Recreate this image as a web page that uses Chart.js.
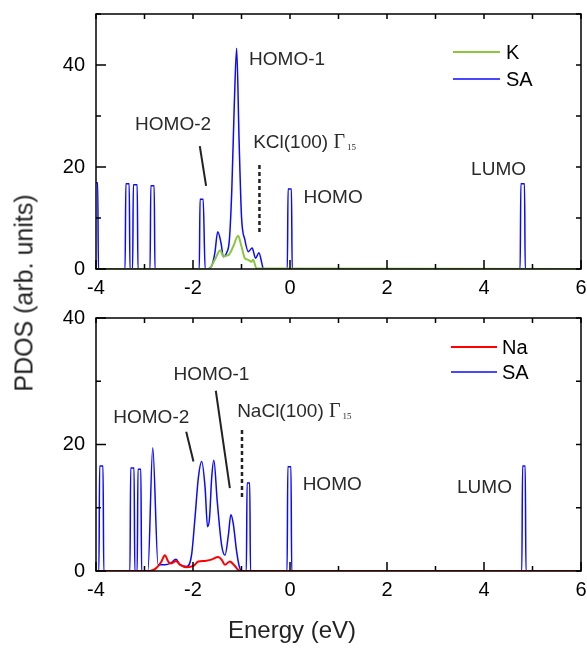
<!DOCTYPE html>
<html>
<head>
<meta charset="utf-8">
<script src="https://cdn.jsdelivr.net/npm/chart.js@4.4.1/dist/chart.umd.min.js"></script>
<style>
html, body { margin: 0; padding: 0; background: #fff; }
#wrap { position: relative; width: 587px; height: 649px; overflow: hidden; font-family: "Liberation Sans", Arial, sans-serif; }
.panel { position: absolute; left: 0; width: 587px; }
#topBox { top: 0; height: 305px; }
#botBox { top: 305px; height: 344px; }
#yTitle { position: absolute; left: 24px; top: 293px; transform: translate(-50%, -50%) rotate(-90deg); font-size: 25px; color: #222; white-space: nowrap; }
#xTitle { position: absolute; left: 292px; top: 630px; transform: translate(-50%, -50%); font-size: 24px; color: #222; white-space: nowrap; }
</style>
</head>
<body>
<div id="wrap">
  <div class="panel" id="topBox"><canvas id="topChart"></canvas></div>
  <div class="panel" id="botBox"><canvas id="botChart"></canvas></div>
  <div id="yTitle">PDOS (arb. units)</div>
  <div id="xTitle">Energy (eV)</div>
</div>
<script>
// tick labels
const energyTicks = [-4, -2, 0, 2, 4, 6];
const topPdosTicks = [0, 20, 40];
const botPdosTicks = [0, 20, 40];

// KCl(100): SA projected DOS
const topSaE = [-4, -3.965, -3.95, -3.40, -3.385, -3.315, -3.30, -3.245, -3.23, -3.15, -3.135,
  -2.885, -2.87, -2.80, -2.785, -1.87, -1.855, -1.79, -1.75, -1.72, -1.62, -1.55, -1.49, -1.42,
  -1.375, -1.31, -1.25, -1.20, -1.15, -1.10, -1.05, -1.00, -0.93, -0.86, -0.78, -0.71, -0.64,
  -0.58, -0.55, -0.055, -0.04, 0.03, 0.045, 4.745, 4.76, 4.835, 4.85, 6];
const topSaPdos = [16.9, 16.9, 0, 0, 16.7, 16.7, 0, 0, 16.5, 16.5, 0,
  0, 16.3, 16.3, 0, 0, 13.7, 13.7, 0, 0, 0.5, 3.1, 7.3, 5.0,
  2.4, 3.1, 5.7, 15.5, 31.8, 43.3, 25.3, 10.3, 5.7, 3.4, 4.1, 2.1, 3.2,
  1.1, 0, 0, 15.7, 15.7, 0, 0, 16.7, 16.7, 0, 0];

// KCl(100): K projected DOS
const topKE = [-4, -1.68, -1.55, -1.44, -1.375, -1.27, -1.17, -1.07, -1.00, -0.93, -0.86, -0.80, -0.76, -0.69, 6];
const topKPdos = [0, 0, 1.8, 3.7, 2.5, 2.7, 4.4, 6.5, 4.4, 2.1, 1.8, 1.4, 1.8, 0.1, 0];

// NaCl(100): SA projected DOS
const botSaE = [-4, -3.94, -3.925, -3.855, -3.84, -3.30, -3.285, -3.215, -3.20, -3.15, -3.135, -3.075, -3.06,
  -2.93, -2.83, -2.72, -2.58, -2.47, -2.35, -2.27, -2.13, -2.03, -1.96, -1.89, -1.82, -1.75, -1.70,
  -1.66, -1.615, -1.57, -1.50, -1.41, -1.34, -1.27, -1.22, -1.17, -1.10, -1.045, -1.0,
  -0.90, -0.885, -0.83, -0.815, -0.06, -0.045, 0.02, 0.035, 4.78, 4.795, 4.85, 4.865, 6];
const botSaPdos = [0, 0, 16.6, 16.6, 0, 0, 16.3, 16.3, 0, 0, 16.1, 16.1, 0,
  0, 19.5, 1.0, 1.0, 1.2, 1.85, 1.0, 0.7, 2.5, 8.3, 14.7, 17.3, 13.1, 7.0,
  8.3, 14.7, 17.5, 11.0, 4.1, 2.5, 5.7, 8.9, 7.5, 3.05, 0.7, 0,
  0, 13.9, 13.9, 0, 0, 16.5, 16.5, 0, 0, 16.6, 16.6, 0, 0];

// NaCl(100): Na projected DOS
const botNaE = [-4, -2.89, -2.75, -2.65, -2.58, -2.51, -2.45, -2.35, -2.27, -2.13, -1.99, -1.89, -1.75,
  -1.62, -1.48, -1.41, -1.34, -1.24, -1.16, -1.03, 6];
const botNaPdos = [0, 0, 0.5, 1.5, 2.5, 1.5, 1.2, 1.6, 1.0, 0.6, 0.8, 1.5, 1.6,
  1.8, 2.2, 1.8, 1.0, 1.5, 1.0, 0, 0];

// Γ15 markers (dashed) and label leaders
const topGammaLine = [[-0.63, 20.4], [-0.63, 7.1]];
const botGammaLine = [[-0.99, 22.3], [-0.99, 11.5]];
const topLeaders = [[[-1.86, 24.1], [-1.73, 16.3]]];
const botLeaders = [[[-2.14, 22.0], [-1.99, 17.3]], [[-1.53, 28.5], [-1.24, 13.1]]];

const pts = (xs, ys) => xs.map((e, i) => ({ x: e, y: ys[i] }));
const seg = p => p.map(q => ({ x: q[0], y: q[1] }));

Chart.defaults.font.family = '"Liberation Sans", Arial, sans-serif';

const frameTicks = {
  id: 'frameTicks',
  afterDatasetsDraw(chart) {
    const { ctx, chartArea: a, scales: { x, y } } = chart;
    ctx.save();
    ctx.strokeStyle = '#000';
    ctx.lineWidth = 1.5;
    ctx.strokeRect(a.left, a.top, a.width, a.height);
    ctx.beginPath();
    for (let v = Math.ceil(x.min); v <= x.max; v++) {
      const px = x.getPixelForValue(v);
      ctx.moveTo(px, a.bottom);
      ctx.lineTo(px, a.bottom - (v % 2 === 0 ? 9 : 5));
      ctx.moveTo(px, a.top);
      ctx.lineTo(px, a.top + 5);
    }
    for (let v = 0; v <= y.max; v += 10) {
      const py = y.getPixelForValue(v);
      ctx.moveTo(a.left, py);
      ctx.lineTo(a.left + (v % 20 === 0 ? 10 : 5), py);
      ctx.moveTo(a.right, py);
      ctx.lineTo(a.right - 5, py);
    }
    ctx.stroke();
    ctx.restore();
  }
};

// text notes placed in data coordinates
const notesPlugin = {
  id: 'notes',
  afterDraw(chart, args, opts) {
    const { ctx, scales: { x, y } } = chart;
    ctx.save();
    ctx.fillStyle = '#2a2a2a';
    ctx.textBaseline = 'middle';
    (opts.items || []).forEach(n => {
      const px = x.getPixelForValue(n.x);
      const py = y.getPixelForValue(n.y);
      ctx.font = '19px "Liberation Sans", Arial, sans-serif';
      if (n.gamma) {
        ctx.textAlign = 'left';
        ctx.fillText(n.text, px, py);
        let cx = px + ctx.measureText(n.text).width;
        ctx.font = '20px "Liberation Serif", "Times New Roman", serif';
        ctx.fillText('\u0393', cx, py);
        cx += ctx.measureText('\u0393').width + 2;
        ctx.font = '9px "Liberation Serif", "Times New Roman", serif';
        ctx.fillText('15', cx, py + 5);
      } else {
        ctx.textAlign = 'center';
        ctx.fillText(n.text, px, py);
      }
    });
    ctx.restore();
  }
};

// legend drawn inside the plot, top right
const insideLegend = {
  id: 'insideLegend',
  afterDraw(chart, args, opts) {
    const { ctx, chartArea: a } = chart;
    ctx.save();
    ctx.font = '20px "Liberation Sans", Arial, sans-serif';
    ctx.textBaseline = 'middle';
    ctx.textAlign = 'left';
    chart.data.datasets.filter(d => d.label).forEach((d, i) => {
      const yy = a.top + opts.rows[i];
      ctx.strokeStyle = d.borderColor;
      ctx.lineWidth = d.borderWidth;
      ctx.beginPath();
      ctx.moveTo(a.right - opts.lineFrom, yy);
      ctx.lineTo(a.right - opts.lineTo, yy);
      ctx.stroke();
      ctx.fillStyle = '#000';
      ctx.fillText(d.label, a.right - opts.textAt, yy + 1);
    });
    ctx.restore();
  }
};

function helperLine(p, dashed) {
  return {
    label: '',
    data: seg(p),
    borderColor: '#222',
    borderWidth: dashed ? 2.5 : 2,
    borderDash: dashed ? [4, 3] : [],
    pointRadius: 0,
    tension: 0,
    cubicInterpolationMode: 'default'
  };
}

function makeChart(id, cfg) {
  const datasets = [
    { label: cfg.metal, data: pts(cfg.metalE, cfg.metalPdos), borderColor: cfg.metalColor, borderWidth: 2 },
    { label: 'SA', data: pts(cfg.saE, cfg.saPdos), borderColor: '#0a0aff', borderWidth: 1.5 },
    helperLine(cfg.gamma, true)
  ].concat(cfg.leaders.map(l => helperLine(l, false)));

  return new Chart(document.getElementById(id), {
    type: 'line',
    data: { datasets },
    options: {
      responsive: true,
      maintainAspectRatio: false,
      animation: false,
      layout: { padding: { top: cfg.padTop, right: 6, left: 0, bottom: 0 } },
      elements: {
        point: { radius: 0 },
        line: { cubicInterpolationMode: 'monotone', fill: false }
      },
      plugins: {
        legend: { display: false },
        tooltip: { enabled: false },
        notes: { items: cfg.notes },
        insideLegend: cfg.legend
      },
      scales: {
        x: {
          type: 'linear',
          min: -4,
          max: 6,
          grid: { display: false, drawTicks: false },
          border: { display: false },
          afterBuildTicks: s => { s.ticks = energyTicks.map(v => ({ value: v })); },
          afterFit: s => { s.height = cfg.xHeight; s.paddingLeft = 0; s.paddingRight = 0; },
          ticks: { font: { size: 20 }, color: '#000', padding: 7, maxRotation: 0 }
        },
        y: {
          type: 'linear',
          min: 0,
          max: cfg.yMax,
          grid: { display: false, drawTicks: false },
          border: { display: false },
          afterBuildTicks: s => { s.ticks = cfg.yTicks.map(v => ({ value: v })); },
          afterFit: s => { s.width = 96; s.paddingTop = 0; s.paddingBottom = 0; },
          ticks: { font: { size: 20 }, color: '#000', padding: 11 }
        }
      }
    },
    plugins: [frameTicks, notesPlugin, insideLegend]
  });
}

makeChart('topChart', {
  metal: 'K', metalColor: '#8cc63f',
  metalE: topKE, metalPdos: topKPdos, saE: topSaE, saPdos: topSaPdos,
  gamma: topGammaLine, leaders: topLeaders,
  yMax: 50, yTicks: topPdosTicks, padTop: 14, xHeight: 36,
  notes: [
    { text: 'HOMO-1', x: -0.06, y: 41.0 },
    { text: 'HOMO-2', x: -2.41, y: 28.3 },
    { text: 'KCl(100) ', x: -0.76, y: 24.8, gamma: true },
    { text: 'HOMO', x: 0.89, y: 14.0 },
    { text: 'LUMO', x: 4.30, y: 19.5 }
  ],
  legend: { rows: [38, 65], lineFrom: 128, lineTo: 81, textAt: 75 }
});

makeChart('botChart', {
  metal: 'Na', metalColor: '#ff0000',
  metalE: botNaE, metalPdos: botNaPdos, saE: botSaE, saPdos: botSaPdos,
  gamma: botGammaLine, leaders: botLeaders,
  yMax: 40, yTicks: botPdosTicks, padTop: 13, xHeight: 78,
  notes: [
    { text: 'HOMO-1', x: -1.62, y: 31.1 },
    { text: 'HOMO-2', x: -2.86, y: 24.3 },
    { text: 'NaCl(100) ', x: -1.09, y: 25.2, gamma: true },
    { text: 'HOMO', x: 0.87, y: 13.7 },
    { text: 'LUMO', x: 4.01, y: 13.2 }
  ],
  legend: { rows: [29, 54], lineFrom: 130, lineTo: 84, textAt: 79 }
});
</script>
</body>
</html>
